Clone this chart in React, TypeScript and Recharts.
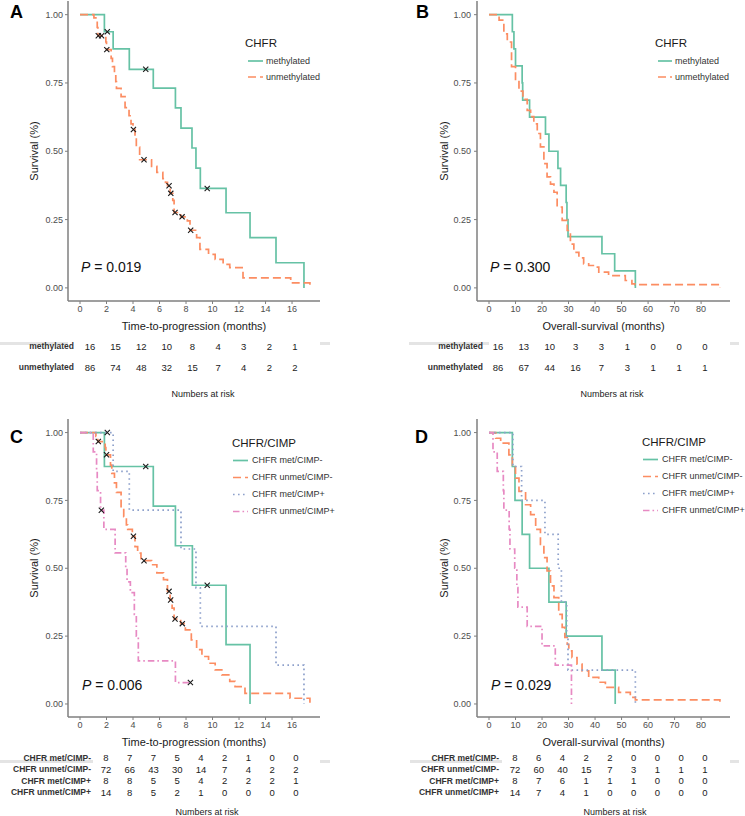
import React from "react";
import {
  ComposedChart,
  Legend,
  Line,
  Scatter,
  ScatterChart,
  XAxis,
  YAxis,
} from "recharts";

type Pt = [number, number];

const FONT = '"Liberation Sans", Arial, Helvetica, sans-serif';
const AXIS = "#7f7f7f";

// ---- shared axis ticks / groups ----
const TPP_TICKS = [0, 2, 4, 6, 8, 10, 12, 14, 16];
const OS_TICKS = [0, 10, 20, 30, 40, 50, 60, 70, 80];
const SURV_TICKS = [0, 0.25, 0.5, 0.75, 1];
const CHFR_GROUPS = ["methylated", "unmethylated"];
const CIMP_GROUPS = ["CHFR met/CIMP-", "CHFR unmet/CIMP-", "CHFR met/CIMP+", "CHFR unmet/CIMP+"];

// ---- A: time-to-progression, CHFR ----
const tppMet: Pt[] = [
  [0, 1], [1.84, 0.9375], [2.5, 0.875], [3.72, 0.8], [5.53, 0.731], [7.2, 0.659], [7.62, 0.585],
  [8.45, 0.512], [8.75, 0.438], [9.08, 0.364], [11.02, 0.275], [12.83, 0.184], [14.79, 0.092], [16.9, 0],
];
const tppMetCens: Pt[] = [[2.06, 0.9375], [4.96, 0.8], [9.6, 0.364]];
const tppUnmet: Pt[] = [
  [0, 1], [1.05, 0.988], [1.3, 0.953], [1.35, 0.923], [1.95, 0.9], [2.0, 0.872], [2.35, 0.84], [2.45, 0.81],
  [2.6, 0.78], [2.7, 0.755], [2.75, 0.73], [3.1, 0.7], [3.4, 0.66], [3.7, 0.63], [3.85, 0.6], [4.0, 0.58],
  [4.15, 0.55], [4.25, 0.515], [4.5, 0.469], [5.4, 0.445], [5.8, 0.423], [6.25, 0.4], [6.45, 0.386],
  [6.6, 0.374], [6.8, 0.346], [7.0, 0.32], [7.1, 0.276], [7.6, 0.26], [8.1, 0.245], [8.3, 0.211],
  [8.8, 0.184], [9.05, 0.141], [9.7, 0.123], [10.2, 0.104], [10.8, 0.086], [11.3, 0.074], [12.3, 0.037],
  [15.9, 0.018], [17.35, 0],
];
const tppUnmetCens: Pt[] = [
  [1.38, 0.923], [1.63, 0.923], [2.02, 0.872], [4.03, 0.58], [4.83, 0.469], [6.72, 0.374], [6.85, 0.346],
  [7.17, 0.276], [7.7, 0.26], [8.35, 0.211],
];
const tppRiskMet = [16, 15, 12, 10, 8, 4, 3, 2, 1];
const tppRiskUnmet = [86, 74, 48, 32, 15, 7, 4, 2, 2];

// ---- B: overall survival, CHFR ----
const osMet: Pt[] = [
  [0, 1], [8.8, 0.9375], [9.4, 0.875], [10, 0.8125], [12.5, 0.75], [12.7, 0.6875], [15.3, 0.625],
  [21.3, 0.5625], [22.6, 0.5], [26, 0.4375], [27, 0.375], [29.1, 0.3125], [29.4, 0.25], [29.8, 0.1875],
  [42.6, 0.125], [47.4, 0.0625], [55.2, 0],
];
const osUnmet: Pt[] = [
  [0, 1], [3.8, 0.98], [5.6, 0.93], [6.9, 0.9], [8.5, 0.81], [10, 0.76], [11.3, 0.72], [12.8, 0.69],
  [14.4, 0.65], [15.7, 0.627], [16.9, 0.6], [18.2, 0.565], [19.4, 0.516], [20.7, 0.455], [21.9, 0.406],
  [23.2, 0.38], [24.5, 0.35], [25.7, 0.296], [27.6, 0.247], [29.5, 0.21], [30.7, 0.16], [32, 0.13],
  [33.9, 0.11], [35.7, 0.088], [37.6, 0.082], [40.1, 0.076], [41.4, 0.058], [45.1, 0.045], [51.4, 0.027],
  [53.9, 0.015], [55, 0.012], [87.1, 0],
];
const osRiskMet = [16, 13, 10, 3, 3, 1, 0, 0, 0];
const osRiskUnmet = [86, 67, 44, 16, 7, 3, 1, 1, 1];

// ---- C: time-to-progression, CHFR/CIMP ----
const cTppMetNeg: Pt[] = [
  [0, 1], [1.84, 0.875], [5.53, 0.729], [7.2, 0.583], [8.48, 0.4375], [11.02, 0.219], [12.83, 0],
];
const cTppMetNegCens: Pt[] = [[4.96, 0.875], [9.6, 0.4375]];
const cTppUnmetNeg: Pt[] = [
  [0, 1], [1.2, 0.986], [1.35, 0.967], [1.9, 0.945], [1.95, 0.918], [2.3, 0.88], [2.4, 0.85], [2.6, 0.815],
  [2.75, 0.78], [3.1, 0.72], [3.3, 0.69], [3.5, 0.66], [3.6, 0.643], [3.95, 0.618], [4.15, 0.58],
  [4.35, 0.556], [4.6, 0.528], [5.4, 0.513], [5.8, 0.483], [6.3, 0.458], [6.6, 0.415], [6.8, 0.383],
  [6.95, 0.353], [7.1, 0.313], [7.6, 0.296], [7.95, 0.273], [8.4, 0.236], [8.8, 0.2], [9.2, 0.175],
  [9.7, 0.15], [10.2, 0.126], [10.7, 0.107], [11.3, 0.083], [11.7, 0.064], [12.45, 0.039], [15.85, 0.021],
  [17.35, 0],
];
const cTppUnmetNegCens: Pt[] = [
  [1.38, 0.967], [2.0, 0.918], [4.03, 0.618], [4.83, 0.528], [6.72, 0.415], [6.84, 0.383], [7.17, 0.313],
  [7.72, 0.296],
];
const cTppMetPos: Pt[] = [
  [0, 1], [2.5, 0.857], [3.72, 0.714], [7.62, 0.571], [8.75, 0.428], [9.08, 0.286], [14.79, 0.143], [16.9, 0],
];
const cTppMetPosCens: Pt[] = [[2.06, 1]];
const cTppUnmetPos: Pt[] = [
  [0, 1], [1.0, 0.929], [1.25, 0.857], [1.3, 0.786], [1.55, 0.714], [1.8, 0.643], [2.65, 0.557],
  [3.45, 0.5], [3.55, 0.45], [3.8, 0.41], [4.1, 0.33], [4.25, 0.25], [4.4, 0.159], [7.2, 0.079], [8.33, 0.079],
];
const cTppUnmetPosCens: Pt[] = [[1.61, 0.714], [8.33, 0.079]];
const cTppRisk = [
  [8, 7, 7, 5, 4, 2, 1, 0, 0],
  [72, 66, 43, 30, 14, 7, 4, 2, 2],
  [8, 8, 5, 5, 4, 2, 2, 2, 1],
  [14, 8, 5, 2, 1, 0, 0, 0, 0],
];

// ---- D: overall survival, CHFR/CIMP ----
const dOsMetNeg: Pt[] = [
  [0, 1], [8.8, 0.875], [9.8, 0.75], [12.5, 0.625], [15.3, 0.5], [22.6, 0.375], [29.1, 0.25], [42.6, 0.125], [47.6, 0],
];
const dOsUnmetNeg: Pt[] = [
  [0, 1], [2.5, 0.979], [4.4, 0.961], [7.5, 0.918], [8.8, 0.881], [10, 0.832], [11.3, 0.783], [13.8, 0.734],
  [15.7, 0.698], [17.6, 0.643], [19.4, 0.588], [20.7, 0.539], [21.9, 0.49], [23.2, 0.435], [24.5, 0.392],
  [26.3, 0.33], [27.6, 0.282], [28.6, 0.245], [29.5, 0.22], [30.1, 0.196], [31.3, 0.171], [33.2, 0.147],
  [35.1, 0.122], [37.6, 0.098], [41.4, 0.08], [43.9, 0.061], [48.9, 0.043], [53.3, 0.024], [55.2, 0.015],
  [87.1, 0],
];
const dOsMetPos: Pt[] = [
  [0, 1], [9.0, 0.875], [12.3, 0.75], [21.1, 0.625], [26.1, 0.5], [27.3, 0.375], [29.3, 0.25], [29.8, 0.125], [55.2, 0],
];
const dOsUnmetPos: Pt[] = [
  [0, 1], [1.5, 0.929], [3.1, 0.857], [5.4, 0.786], [5.6, 0.714], [7.6, 0.643], [7.9, 0.571], [9.7, 0.5],
  [10.5, 0.429], [10.9, 0.357], [14.4, 0.286], [20.0, 0.214], [25.0, 0.143], [31.1, 0],
];
const dOsRisk = [
  [8, 6, 4, 2, 2, 0, 0, 0, 0],
  [72, 60, 40, 15, 7, 3, 1, 1, 1],
  [8, 7, 6, 1, 1, 1, 0, 0, 0],
  [14, 7, 4, 1, 0, 0, 0, 0, 0],
];

const STYLE = {
  met: { color: "#66C2A5", dash: undefined as string | undefined },
  unmet: { color: "#FC8D62", dash: "8 4" },
  metPos: { color: "#8DA0CB", dash: "1.6 3.4" },
  unmetPos: { color: "#E78AC3", dash: "6.5 3 1.6 3" },
};

type Series = { name: string; color: string; dash?: string; curve: Pt[]; cens: Pt[] };

const rows = (pts: Pt[]) => pts.map(([t, s]) => ({ t, s }));

function CensorMark(props: any) {
  const { cx, cy } = props;
  if (cx == null || cy == null) return null;
  const r = 2.6;
  return (
    <path
      d={`M${cx - r},${cy - r}L${cx + r},${cy + r}M${cx - r},${cy + r}L${cx + r},${cy - r}`}
      stroke="#1a1a1a"
      strokeWidth={1.1}
      fill="none"
    />
  );
}

type LegendLayout = {
  left: number; top: number; titleH: number; titleGap: number; rowH: number;
  lineOff: number; lineW: number; textGap: number;
};

function LegendBox({ title, series, lay }: { title: string; series: Series[]; lay: LegendLayout }) {
  return (
    <div style={{ fontFamily: FONT, color: "#1a1a1a" }}>
      <div style={{ fontSize: 11.5, lineHeight: `${lay.titleH}px`, marginBottom: lay.titleGap, whiteSpace: "nowrap" }}>
        {title}
      </div>
      {series.map((s) => (
        <div key={s.name} style={{ display: "flex", alignItems: "center", height: lay.rowH, whiteSpace: "nowrap" }}>
          <svg width={lay.lineOff + lay.lineW} height={lay.rowH} style={{ display: "block" }}>
            <line
              x1={lay.lineOff}
              x2={lay.lineOff + lay.lineW}
              y1={lay.rowH / 2}
              y2={lay.rowH / 2}
              stroke={s.color}
              strokeWidth={1.7}
              strokeDasharray={s.dash}
            />
          </svg>
          <span style={{ fontSize: 9, marginLeft: lay.textGap, color: "#333" }}>{s.name}</span>
        </div>
      ))}
    </div>
  );
}

type PanelProps = {
  letter: string; left: number; top: number; width: number; height: number;
  margin: { top: number; right: number; bottom: number; left: number };
  yWidth: number; yTickMargin: number; xDomain: [number, number]; xTicks: number[];
  xLabel: string; series: Series[]; legendTitle: string; legend: LegendLayout;
  pText: string; pLeft: number; pTop: number; letterLeft: number; letterTop: number;
};

function KMPanel(p: PanelProps) {
  const tickStyle = { fontSize: 9, fill: "#4d4d4d", fontFamily: FONT };
  const titleStyle = { fontSize: 11, fill: "#1a1a1a", fontFamily: FONT };
  return (
    <div style={{ position: "absolute", left: p.left, top: p.top, width: p.width, height: p.height }}>
      <ComposedChart width={p.width} height={p.height} margin={p.margin}>
        <XAxis
          type="number"
          dataKey="t"
          domain={p.xDomain}
          ticks={p.xTicks}
          interval={0}
          height={35}
          tickSize={3}
          tickMargin={2}
          axisLine={{ stroke: AXIS, strokeWidth: 1.5 }}
          tickLine={{ stroke: AXIS }}
          tick={tickStyle}
          label={{ value: p.xLabel, position: "insideBottom", offset: 6, style: titleStyle }}
        />
        <YAxis
          type="number"
          domain={[-0.048, 1.05]}
          ticks={SURV_TICKS}
          interval={0}
          tickFormatter={(v: number) => v.toFixed(2)}
          width={p.yWidth}
          tickSize={3}
          tickMargin={p.yTickMargin}
          axisLine={{ stroke: AXIS, strokeWidth: 1.5 }}
          tickLine={{ stroke: AXIS }}
          tick={tickStyle}
          label={{ value: "Survival (%)", angle: -90, position: "center", style: { ...titleStyle, textAnchor: "middle" } }}
        />
        {p.series.map((s) => (
          <Line
            key={s.name}
            data={rows(s.curve)}
            dataKey="s"
            type="stepAfter"
            stroke={s.color}
            strokeWidth={1.7}
            strokeDasharray={s.dash}
            dot={false}
            activeDot={false}
            isAnimationActive={false}
          />
        ))}
        {p.series
          .filter((s) => s.cens.length > 0)
          .map((s) => (
            <Scatter
              key={s.name + "-cens"}
              data={rows(s.cens)}
              dataKey="s"
              shape={<CensorMark />}
              isAnimationActive={false}
            />
          ))}
        <Legend
          layout="vertical"
          align="center"
          verticalAlign="middle"
          wrapperStyle={{ left: p.legend.left, top: p.legend.top, width: "auto" }}
          content={() => <LegendBox title={p.legendTitle} series={p.series} lay={p.legend} />}
        />
      </ComposedChart>
      <div
        style={{
          position: "absolute", left: p.pLeft, top: p.pTop, fontSize: 14, lineHeight: "14px",
          fontFamily: FONT, whiteSpace: "nowrap", color: "#111",
        }}
      >
        <i>P</i> = {p.pText}
      </div>
      <div
        style={{
          position: "absolute", left: p.letterLeft, top: p.letterTop, fontSize: 18, lineHeight: "18px",
          fontWeight: 700, fontFamily: FONT, color: "#000",
        }}
      >
        {p.letter}
      </div>
    </div>
  );
}

type TableProps = {
  left: number; top: number; width: number; height: number; yWidth: number; labelGap: number;
  marginRight: number; groups: string[]; counts: number[][]; times: number[];
};

function RiskTable(p: TableProps) {
  const cells = p.counts.flatMap((row, r) => row.map((n, i) => ({ x: p.times[i], y: r, n })));
  return (
    <div style={{ position: "absolute", left: p.left, top: p.top }}>
      <ScatterChart width={p.width} height={p.height} margin={{ top: 0, right: p.marginRight, bottom: 0, left: 0 }}>
        <XAxis type="number" dataKey="x" hide domain={[p.times[0], p.times[p.times.length - 1]]} />
        <YAxis
          type="number"
          dataKey="y"
          reversed
          domain={[-0.5, p.groups.length - 0.5]}
          ticks={p.groups.map((_, i) => i)}
          interval={0}
          width={p.yWidth}
          axisLine={false}
          tickLine={false}
          tickSize={0}
          tickMargin={p.labelGap}
          tick={(t: any) => (
            <text
              x={t.x}
              y={t.y}
              dy="0.35em"
              textAnchor="end"
              fontSize={8.5}
              fontWeight={700}
              fill="#333"
              fontFamily={FONT}
            >
              {p.groups[t.payload.value] ?? ""}
            </text>
          )}
        />
        <Scatter
          data={cells}
          isAnimationActive={false}
          shape={(s: any) => (
            <text x={s.cx} y={s.cy} dy="0.36em" textAnchor="middle" fontSize={9.5} fill="#222" fontFamily={FONT}>
              {s.payload.n}
            </text>
          )}
        />
      </ScatterChart>
    </div>
  );
}

const chfrSeries = (met: Pt[], metC: Pt[], unmet: Pt[], unmetC: Pt[]): Series[] => [
  { name: "methylated", ...STYLE.met, curve: met, cens: metC },
  { name: "unmethylated", ...STYLE.unmet, curve: unmet, cens: unmetC },
];

const cimpSeries = (a: Pt[], ac: Pt[], b: Pt[], bc: Pt[], c: Pt[], cc: Pt[], d: Pt[], dc: Pt[]): Series[] => [
  { name: CIMP_GROUPS[0], ...STYLE.met, curve: a, cens: ac },
  { name: CIMP_GROUPS[1], ...STYLE.unmet, curve: b, cens: bc },
  { name: CIMP_GROUPS[2], ...STYLE.metPos, curve: c, cens: cc },
  { name: CIMP_GROUPS[3], ...STYLE.unmetPos, curve: d, cens: dc },
];

function Stripe({ left, top, width }: { left: number; top: number; width: number }) {
  return <div style={{ position: "absolute", left, top, width, height: 3, background: "#e4e4e4" }} />;
}

function Caption({ cx, top }: { cx: number; top: number }) {
  return (
    <div
      style={{
        position: "absolute", left: cx - 60, top, width: 120, textAlign: "center", fontSize: 9,
        lineHeight: "10px", fontFamily: FONT, color: "#1a1a1a",
      }}
    >
      Numbers at risk
    </div>
  );
}

export default function App() {
  const legendTop = { titleH: 16, titleGap: 2, rowH: 16 };
  const legendBottom = { titleH: 16, titleGap: 0.5, rowH: 17 };
  return (
    <div style={{ position: "absolute", left: 0, top: 0, width: 745, height: 816, background: "#fff", overflow: "hidden" }}>
      <Stripe left={0} top={342} width={68} />
      <Stripe left={320} top={342} width={10} />
      <Stripe left={409} top={342} width={80} />
      <Stripe left={730} top={342} width={9} />
      <Stripe left={0} top={760} width={93} />
      <Stripe left={320} top={760} width={10} />
      <Stripe left={410} top={760} width={92} />
      <Stripe left={730} top={760} width={9} />

      <KMPanel
        letter="A" left={0} top={0} width={372} height={336}
        margin={{ top: 1, right: 52, bottom: 0, left: 0 }}
        yWidth={68} yTickMargin={2} xDomain={[-0.906, 18.11]} xTicks={TPP_TICKS}
        xLabel="Time-to-progression (months)"
        series={chfrSeries(tppMet, tppMetCens, tppUnmet, tppUnmetCens)}
        legendTitle="CHFR"
        legend={{ left: 245, top: 35, ...legendTop, lineOff: 3, lineW: 15, textGap: 3 }}
        pText="0.019" pLeft={81} pTop={260} letterLeft={10} letterTop={3}
      />
      <KMPanel
        letter="B" left={372} top={0} width={373} height={336}
        margin={{ top: 1, right: 15, bottom: 0, left: 40 }}
        yWidth={65} yTickMargin={3} xDomain={[-4.53, 90.9]} xTicks={OS_TICKS}
        xLabel="Overall-survival (months)"
        series={chfrSeries(osMet, [], osUnmet, [])}
        legendTitle="CHFR"
        legend={{ left: 283, top: 35, ...legendTop, lineOff: 3, lineW: 14, textGap: 3 }}
        pText="0.300" pLeft={118} pTop={260} letterLeft={44} letterTop={3}
      />
      <KMPanel
        letter="C" left={0} top={419} width={372} height={333}
        margin={{ top: 0, right: 52, bottom: 0, left: 0 }}
        yWidth={68} yTickMargin={2} xDomain={[-0.906, 18.11]} xTicks={TPP_TICKS}
        xLabel="Time-to-progression (months)"
        series={cimpSeries(
          cTppMetNeg, cTppMetNegCens, cTppUnmetNeg, cTppUnmetNegCens,
          cTppMetPos, cTppMetPosCens, cTppUnmetPos, cTppUnmetPosCens,
        )}
        legendTitle="CHFR/CIMP"
        legend={{ left: 232, top: 16, ...legendBottom, lineOff: 1, lineW: 15, textGap: 4 }}
        pText="0.006" pLeft={82} pTop={259} letterLeft={10} letterTop={9}
      />
      <KMPanel
        letter="D" left={372} top={419} width={373} height={333}
        margin={{ top: 0, right: 15, bottom: 0, left: 40 }}
        yWidth={65} yTickMargin={3} xDomain={[-4.53, 90.9]} xTicks={OS_TICKS}
        xLabel="Overall-survival (months)"
        series={cimpSeries(dOsMetNeg, [], dOsUnmetNeg, [], dOsMetPos, [], dOsUnmetPos, [])}
        legendTitle="CHFR/CIMP"
        legend={{ left: 270, top: 15, ...legendBottom, lineOff: 1, lineW: 15, textGap: 4 }}
        pText="0.029" pLeft={119} pTop={259} letterLeft={43} letterTop={9}
      />

      <RiskTable
        left={0} top={336} width={372} height={42} yWidth={90} labelGap={16} marginRight={77}
        groups={CHFR_GROUPS} counts={[tppRiskMet, tppRiskUnmet]} times={TPP_TICKS}
      />
      <RiskTable
        left={372} top={336} width={373} height={42} yWidth={126} labelGap={15} marginRight={40}
        groups={CHFR_GROUPS} counts={[osRiskMet, osRiskUnmet]} times={OS_TICKS}
      />
      <RiskTable
        left={0} top={752} width={372} height={46} yWidth={106} labelGap={15} marginRight={76}
        groups={CIMP_GROUPS} counts={cTppRisk} times={TPP_TICKS}
      />
      <RiskTable
        left={372} top={752} width={373} height={46} yWidth={143} labelGap={16} marginRight={40}
        groups={CIMP_GROUPS} counts={dOsRisk} times={OS_TICKS}
      />

      <Caption cx={203} top={389} />
      <Caption cx={612} top={389} />
      <Caption cx={207} top={807} />
      <Caption cx={615} top={807} />
    </div>
  );
}
